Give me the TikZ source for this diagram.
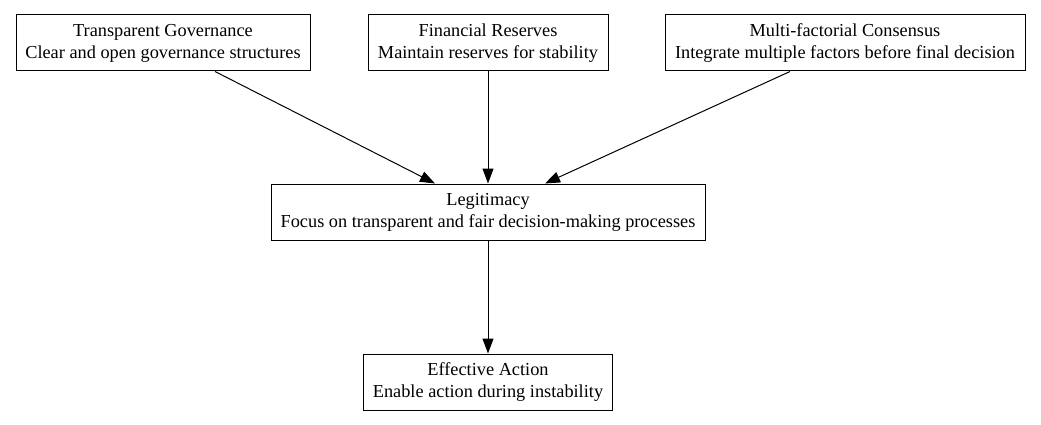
\documentclass[tikz,border=0pt]{standalone}
\usepackage{fontspec}
\setmainfont{Liberation Serif}
\usetikzlibrary{arrows.meta}
\begin{document}
\begin{tikzpicture}[x=1pt,y=-1pt,
  box/.style={draw, line width=1pt, inner sep=0pt, align=center,
    font=\fontsize{18.3}{22}\selectfont},
  arr/.style={line width=1pt, -{Triangle[length=15pt,width=11pt]}}]
\useasboundingbox (0,0) rectangle (1041,425);
\node[box, minimum width=294pt, minimum height=56pt] (tg) at (163,43) {Transparent Governance\\Clear and open governance structures};
\node[box, minimum width=240pt, minimum height=56pt] (fr) at (488,43) {Financial Reserves\\Maintain reserves for stability};
\node[box, minimum width=360pt, minimum height=56pt] (mc) at (845,43) {Multi-factorial Consensus\\Integrate multiple factors before final decision};
\node[box, minimum width=434pt, minimum height=56pt] (lg) at (488,212) {Legitimacy\\Focus on transparent and fair decision-making processes};
\node[box, minimum width=249pt, minimum height=56pt] (ea) at (488,382) {Effective Action\\Enable action during instability};
\draw[arr] (tg.south -| 215,0) -- (lg.north -| 435,0);
\draw[arr] (fr) -- (lg);
\draw[arr] (mc.south -| 790,0) -- (lg.north -| 545,0);
\draw[arr] (lg) -- (ea);
\end{tikzpicture}
\end{document}
